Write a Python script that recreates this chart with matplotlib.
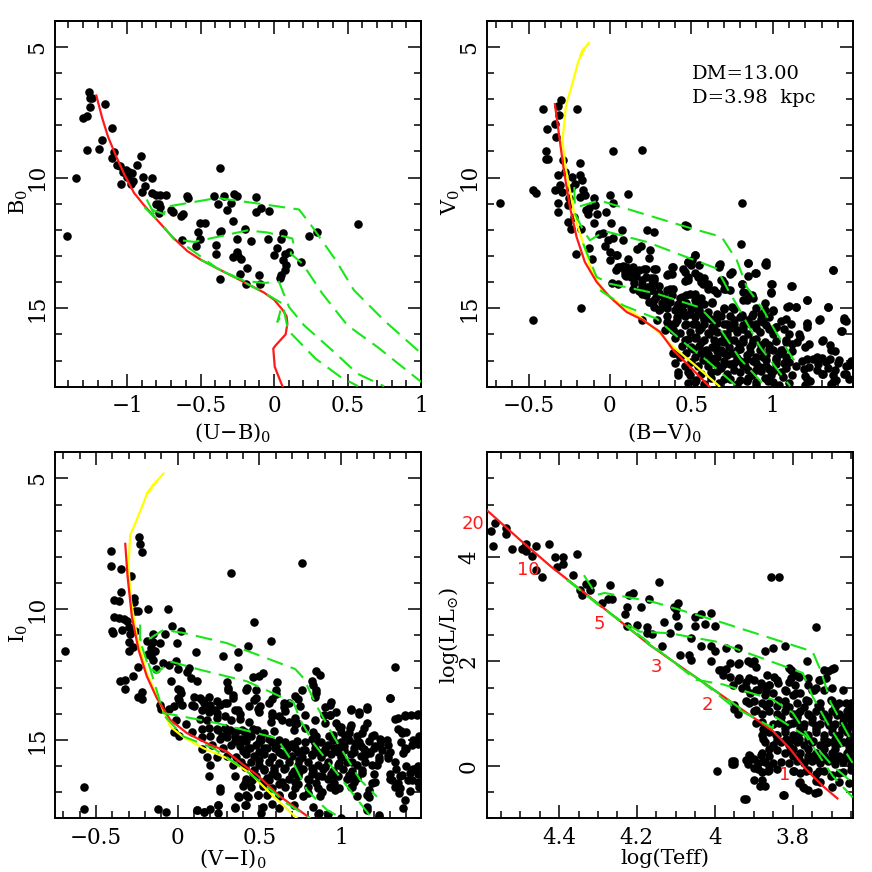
"""Four-panel colour-magnitude / HR diagram with MS and PMS isochrones."""
import matplotlib
matplotlib.use("Agg")
import matplotlib.pyplot as plt
from matplotlib.ticker import FixedLocator, MultipleLocator

plt.rcParams["font.family"] = ["DejaVu Serif"]
plt.rcParams["mathtext.fontset"] = "dejavuserif"

RED, GREEN, YELLOW = "#ff1a1a", "#19e619", "#ffff00"

# --- (U-B)0 vs B0 ---
ub_stars = [(-1.256,6.73),(-1.25,6.96),(-1.235,6.96),(-1.25,7.31),(-1.15,7.17),(-1.274,7.63),(-1.297,7.74),
    (-1.104,8.11),(-1.168,8.58),(-1.193,8.9),(-1.27,8.93),(-1.088,9.04),(-1.1,9.26),(-0.907,9.16),(-1.066,9.52),
    (-1.048,9.57),(-0.93,9.53),(-0.37,9.62),(-1.01,9.72),(-0.986,9.79),(-0.968,9.81),(-1.03,9.77),(-1.349,10.0),
    (-0.889,9.97),(-0.832,10.0),(-1.0,9.97),(-0.957,10.14),(-0.975,10.24),(-1.04,10.24),(-0.88,10.31),(-0.9,10.54),
    (-0.832,10.6),(-0.805,10.65),(-0.776,10.68),(-0.737,10.66),(-0.594,10.7),(-0.585,10.8),(-0.41,10.69),
    (-0.342,10.69),(-0.274,10.64),(-0.254,10.71),(-0.125,10.74),(-0.38,11.0),(-0.29,10.98),(-0.805,11.03),
    (-0.782,11.03),(-0.776,11.12),(-0.086,11.15),(-0.122,11.31),(-0.032,11.28),(-0.317,11.26),(-0.703,11.26),
    (-0.685,11.3),(-0.782,11.36),(-0.62,11.39),(-0.63,11.47),(-0.28,11.65),(-0.503,11.72),(-0.47,11.75),
    (0.574,11.77),(-0.2,11.98),(-0.358,12.05),(-0.37,12.1),(-0.517,12.1),(0.06,12.13),(0.29,12.1),(0.238,12.25),
    (-0.503,12.35),(-0.628,12.37),(-0.254,12.35),(-0.159,12.42),(-0.04,12.36),(0.045,12.35),(-0.392,12.58),
    (-0.53,12.63),(0.018,12.7),(-0.395,12.91),(-0.25,12.84),(0.1,12.84),(-0.002,12.97),(0.075,12.93),(0.06,13.14),
    (-0.28,13.05),(-0.245,13.0),(-0.222,13.11),(0.186,13.24),(0.082,13.33),(0.075,13.52),(-0.186,13.47),
    (-0.23,13.7),(-0.104,13.72),(0.045,13.74),(0.04,13.83),(-0.37,13.88),(-0.193,14.06),(-0.093,14.09),(-1.406,12.22)]
ub_red = [(-1.209,6.86),(-1.168,7.74),(-1.129,8.44),(-1.077,9.15),(-1.016,9.91),(-0.952,10.59),(-0.884,11.06),
    (-0.794,11.63),(-0.692,12.27),(-0.59,12.81),(-0.499,13.14),(-0.385,13.48),(-0.227,13.93),(-0.068,14.4),
    (0.0,14.67),(0.057,15.05),(0.086,15.31),(0.091,15.59),(0.079,16.0),(0.011,16.42),(-0.005,16.54),
    (0.005,17.24),(0.057,17.98)]
ub_pms = [
    [(-0.866,10.84),(-0.794,11.63),(-0.884,11.12),(-0.748,11.4),(-0.737,11.12),(-0.385,10.78),(-0.272,10.87),
     (-0.113,10.99),(0.17,11.22),(0.261,11.89),(0.42,13.16),(0.544,14.31),(0.748,15.46),(1.002,16.73)],
    [(-0.748,11.89),(-0.68,12.37),(-0.544,12.46),(-0.385,12.27),(-0.181,12.02),(-0.045,12.1),(0.125,12.33),
     (0.132,12.53),(0.113,12.91),(0.193,13.29),(0.329,14.44),(0.499,15.65),(0.703,16.48),(1.002,17.82)],
    [(-0.59,12.65),(-0.385,13.48),(-0.204,13.95),(-0.068,14.03),(0.034,13.99),(0.102,14.95),(0.204,15.65),
     (0.408,16.67),(0.567,17.5),(0.748,17.98)],
    [(-0.5,13.14),(-0.227,13.93),(-0.057,14.44),(0.057,14.82),(0.023,15.52),(0.068,15.08),(0.095,15.84),(0.283,16.93),(0.453,17.63),(0.571,17.98)],
]

# --- (B-V)0 vs V0 ---
bv_stars = [(-0.3,7.02),(-0.32,7.27),(-0.41,7.37),(-0.2,7.37),(-0.31,7.61),(-0.34,7.96),(-0.385,8.13),(-0.33,8.44),
    (-0.39,8.97),(0.016,9.0),(0.197,8.95),(-0.39,9.3),(-0.38,9.29),(-0.287,9.31),(-0.184,9.46),(-0.318,9.92),
    (-0.277,9.78),(-0.23,9.97),(-0.184,9.92),(-0.174,10.1),(-0.215,10.23),(-0.307,10.29),(-0.338,10.46),
    (-0.297,10.55),(-0.471,10.48),(-0.451,10.6),(-0.168,10.46),(-0.184,10.74),(-0.154,10.68),(-0.096,10.8),
    (0.0,10.65),(0.113,10.62),(-0.676,10.96),(-0.32,10.97),(0.016,10.96),(0.813,10.97),(-0.32,11.33),(-0.15,11.25),
    (-0.133,11.4),(-0.082,11.38),(-0.027,11.32),(-0.256,11.7),(-0.096,11.73),(0.004,11.73),(-0.24,11.95),
    (0.072,12.02),(0.225,12.02),(0.27,12.09),(0.461,11.82),(0.471,11.86),(-0.066,12.17),(-0.04,12.12),
    (0.078,12.37),(-0.01,12.37),(0.016,12.33),(-0.03,12.63),(0.805,12.56),(-0.127,12.69),(-0.209,12.91),
    (0.0,12.84),(0.164,12.72),(0.189,12.63),(0.246,12.78),(0.242,13.06),(-0.109,13.1),(0.0,13.14),(0.041,12.97),
    (0.113,13.11),(0.522,12.97),(0.482,13.23),(0.502,13.16),(0.85,13.25),(0.959,13.23),(0.959,13.35),(0.676,13.29),
    (0.672,13.42),(0.9,13.64),(1.373,13.55),(0.748,13.61),(0.379,13.44),(0.359,13.67),(0.85,13.76),(0.809,14.08),
    (0.994,14.08),(1.117,14.16),(0.988,14.38),(1.209,14.69),(-0.18,14.99),(1.1,14.92),(1.143,14.97),(1.338,14.97),
    (-0.471,15.46),(0.2,15.46),(1.44,15.36),(1.447,15.49),(1.287,15.43),(1.424,15.88),(1.209,15.55),(1.209,15.72),
    (0.05,13.43),(0.08,13.4),(0.11,13.45),(0.14,13.42),(0.04,13.55),(0.09,13.6),(0.13,13.62),(0.15,13.55),(0.18,13.55),
    (0.1,13.75),(0.13,13.8),(0.16,13.75),(0.22,13.48),(0.27,13.48),(0.2,13.9),(0.25,13.85),(0.27,13.9),(0.15,14.05),
    (0.01,14.05),(0.05,14.08),(0.3,14.15),(0.45,13.5),(0.48,13.8),(0.46,13.95),(0.52,13.65),(0.55,13.75),(0.58,13.85),
    (0.56,14.0),(0.6,14.1),(0.6,14.25),(0.66,14.4),(0.7,14.25),(0.74,14.3),(0.68,13.9),(0.7,14.05),(0.84,14.4),
    (0.84,14.7),(0.87,14.5),(0.18,14.35),(0.23,14.2),(0.26,14.3),(0.3,14.4),(0.35,14.3),(0.39,14.25),(0.22,14.5),
    (0.28,14.55),(0.33,14.55),(0.38,14.5),(0.43,14.6),(0.47,14.5),(0.52,14.45),(0.56,14.6),(0.25,14.75),(0.27,14.95),
    (0.32,14.8),(0.37,14.75),(0.42,14.85),(0.47,14.8),(0.52,14.7),(0.58,14.85),(0.63,14.8),(0.3,15.05),(0.35,15.0),
    (0.4,15.05),(0.45,15.1),(0.5,15.0),(0.55,15.05),(0.6,15.15),(0.7,15.0),(0.75,14.95),(0.9,15.0),(0.95,15.05),
    (1.0,15.1),(0.29,15.45),(0.35,15.3),(0.41,15.35),(0.46,15.3),(0.52,15.35),(0.57,15.3),(0.62,15.4),(0.68,15.3),
    (0.74,15.3),(0.8,15.35),(0.87,15.3),(0.93,15.4),(0.98,15.35),(1.05,15.5),(0.36,15.6),(0.4,15.55),(0.46,15.65),
    (0.51,15.6),(0.58,15.6),(0.63,15.7),(0.7,15.6),(0.76,15.6),(0.82,15.65),(0.9,15.6),(0.96,15.65),(1.02,15.7),
    (1.07,15.8),(0.34,15.85),(0.39,15.85),(0.43,15.95),(0.49,15.9),(0.55,15.85),(0.6,15.95),(0.66,15.9),(0.72,16.0),
    (0.78,15.9),(0.85,16.0),(0.92,15.9),(1.0,16.0),(1.1,16.0),(1.17,16.1),(0.4,16.15),(0.46,16.2),(0.52,16.15),
    (0.58,16.2),(0.64,16.2),(0.7,16.3),(0.76,16.2),(0.82,16.3),(0.88,16.2),(0.95,16.3),(1.02,16.25),(1.08,16.3),
    (1.15,16.3),(1.2,16.5),(1.3,16.25),(0.44,16.45),(0.5,16.5),(0.55,16.45),(0.63,16.5),(0.68,16.6),(0.73,16.5),
    (0.8,16.55),(0.86,16.5),(0.92,16.6),(0.98,16.55),(1.05,16.6),(1.12,16.65),(0.39,16.7),(0.43,16.85),(0.47,16.7),
    (0.52,16.85),(0.6,16.75),(0.66,16.85),(0.72,16.8),(0.78,16.9),(0.84,16.8),(0.9,16.85),(0.96,16.8),(1.02,16.9),
    (1.08,16.85),(1.18,17.0),(1.25,16.95),(1.3,16.9),(1.35,16.95),(1.38,16.65),(1.35,16.4),(0.4,17.1),(0.46,17.2),
    (0.5,17.05),(0.64,17.05),(0.7,17.15),(0.76,17.1),(0.83,17.2),(0.9,17.1),(0.96,17.2),(1.02,17.15),(1.07,17.1),
    (1.14,17.2),(1.22,17.25),(1.28,17.15),(1.34,17.3),(1.4,17.1),(1.45,17.2),(1.48,17.0),(0.42,17.55),(0.48,17.45),
    (0.56,17.5),(0.66,17.4),(0.72,17.5),(0.8,17.45),(0.87,17.55),(0.93,17.4),(0.99,17.55),(1.05,17.45),(1.12,17.55),
    (1.2,17.6),(1.3,17.5),(1.37,17.55),(1.44,17.5),(1.47,17.7),(0.48,17.85),(0.53,17.75),(0.58,17.9),(0.67,17.85),
    (0.78,17.9),(0.84,17.8),(0.9,17.95),(0.97,17.8),(1.04,17.95),(1.1,17.85),(1.2,17.95),(1.23,17.8),(1.36,17.9),
    (1.39,17.75),(-0.09,11.05),(-0.13,11.15),(-0.24,10.4),(-0.25,10.8),(-0.26,11.05),(-0.22,11.5),(-0.18,11.95)]
bv_dense = [(0.04,12.97),(0.06,13.42),(0.1,13.42),(0.13,13.61),(0.09,13.74),(0.15,13.8),(0.21,13.48),(0.28,13.48),
    (0.22,13.8),(0.27,13.86),(0.26,14.06),(0.2,14.12),(0.35,13.74),(0.39,13.42),(0.38,13.67),(0.48,13.23),(0.52,12.97),
    (0.5,13.35),(0.55,13.35),(0.46,13.61),(0.48,13.93),(0.54,13.8),(0.57,14.06),(0.6,14.06),(0.67,13.35),(0.74,13.67),
    (0.69,13.93),(0.71,14.25),(0.64,14.31),(0.81,14.09),(0.85,13.26),(0.89,13.65),(0.95,13.29),(0.99,14.06),(0.99,14.4),
    (1.11,14.14),(1.21,14.69),(1.34,14.95),(1.37,13.55),(0.82,14.37),(0.82,14.69),(0.88,14.59),(0.95,14.8),(1.09,14.95),
    (1.14,14.97),(0.14,14.25),(0.2,14.44),(0.25,14.31),(0.3,14.44),(0.37,14.25),(0.24,14.76),(0.31,15.01),(0.27,14.69),
    (0.35,14.69),(0.44,14.57),(0.49,14.44),(0.41,14.95),(0.45,14.82),(0.51,14.95),(0.55,14.82),(0.63,14.76),(0.7,15.01),
    (0.76,15.01),(0.59,15.2),(0.49,15.2),(0.41,15.46),(0.35,15.52),(0.39,15.84),(0.47,15.59),(0.53,15.59),(0.65,15.4),
    (0.72,15.59),(0.81,15.27),(0.88,15.2),(0.93,15.2),(1.0,15.08),(1.08,15.4),(1.11,15.59),(1.21,15.59),(1.29,15.42),
    (1.44,15.46),(1.42,15.88),(1.31,16.22),(1.22,16.35),(1.16,15.97),(1.08,16.22),(1.02,15.71),(0.94,15.52),(0.86,15.59),
    (0.78,15.84),(0.7,15.97),(0.61,15.97),(0.53,16.1),(0.48,16.16),(0.65,16.42),(0.74,16.22),(0.82,16.16),(0.9,16.16),
    (0.98,16.42),(1.06,16.6),(1.12,16.35),(1.36,16.6),(1.27,16.86),(1.21,16.93),(1.33,17.05),(1.41,16.99),(1.47,17.18),
    (1.45,17.5),(1.38,17.37),(1.27,17.37),(1.19,17.31),(1.1,17.05),(1.02,16.99),(0.94,16.86),(0.86,16.67),(0.78,16.6),
    (0.7,16.73),(0.59,16.6),(0.51,16.54),(0.57,16.99),(0.65,17.12),(0.74,17.12),(0.82,17.18),(0.9,17.37),(0.98,17.31),
    (1.06,17.63),(1.21,17.69),(1.31,17.5),(1.37,17.82),(0.49,17.56),(0.42,17.44),(0.4,16.73),(0.52,17.82),(0.7,17.69),
    (0.8,17.75),(0.9,17.82),(1.0,17.82),(0.62,17.44),(0.56,16.3),(0.68,16.25),(0.79,16.35),(0.87,16.35),(0.93,16.42),
    (1.0,16.6),(1.04,16.75),(0.96,16.98),(0.88,17.0),(0.8,17.02),(0.7,17.0),(0.62,16.9),(0.56,16.7),(0.66,16.65),
    (0.75,16.7),(0.84,16.95),(0.92,17.25),(1.0,17.4),(1.08,17.3),(0.76,17.35),(0.68,17.28),(0.6,17.2),(0.54,17.2),
    (0.85,17.35),(0.95,17.65),(0.62,17.65),(0.74,17.72),(0.85,17.65),(0.58,15.45),(0.66,15.55),(0.76,15.45),(0.84,15.45),
    (0.56,15.75),(0.64,15.85),(0.74,15.75),(0.82,15.8),(0.9,15.75),(0.98,15.8),(0.44,15.2),(0.54,15.15),(0.66,15.2)]
bv_yellow = [(-0.129,4.85),(-0.174,5.19),(-0.158,5.06),(-0.184,5.38),(-0.164,5.13),(-0.195,5.57),(-0.236,6.53),
    (-0.27,7.23),(-0.291,8.57),(-0.277,9.46),(-0.246,10.48),(-0.215,11.51),(-0.164,12.53),(-0.113,13.55),
    (-0.041,14.38),(0.072,14.89),(0.184,15.34),(0.287,15.85),(0.389,16.48),(0.512,17.12),(0.672,17.98)]
bv_red = [(-0.338,7.19),(-0.311,8.44),(-0.283,9.72),(-0.246,11.12),(-0.205,12.27),(-0.154,13.23),(-0.082,13.99),
    (0.0,14.57),(0.102,15.14),(0.205,15.46),(0.307,15.9),(0.389,16.6),(0.492,17.24),(0.611,18.0)]
bv_pms = [
    [(-0.219,10.36),(-0.215,11.12),(-0.174,11.08),(-0.066,10.87),(0.164,11.31),(0.471,11.89),(0.686,12.27),
     (0.779,13.16),(0.84,14.18),(0.943,15.08),(1.025,15.97),(1.158,17.25)],
    [(-0.215,11.37),(-0.164,12.02),(-0.123,12.4),(-0.031,12.05),(0.225,12.46),(0.656,13.48),(0.727,14.31),
     (0.799,15.08),(0.922,16.48),(1.107,17.98)],
    [(-0.164,12.53),(-0.082,13.8),(0.0,14.06),(0.287,14.44),(0.553,14.97),(0.676,15.78),(0.799,16.93),(0.953,17.98)],
    [(-0.061,14.31),(0.082,14.89),(0.287,15.4),(0.451,16.29),(0.594,16.99),(0.779,17.98)],
]

# --- (V-I)0 vs I0 ---
vi_stars = [(-0.233,7.25),(-0.229,7.5),(-0.218,7.82),(-0.408,7.78),(-0.408,8.36),(-0.345,8.46),(-0.284,8.72),
    (0.761,8.23),(0.327,8.63),(-0.347,9.33),(-0.269,9.57),(-0.388,9.66),(-0.361,9.67),(-0.269,9.74),(-0.259,10.06),
    (-0.243,10.08),(-0.18,9.99),(-0.06,9.98),(-0.39,10.3),(-0.36,10.33),(-0.33,10.38),(-0.31,10.45),(0.47,10.5),
    (-0.035,10.63),(0.02,10.82),(-0.4,10.85),(-0.395,10.93),(-0.34,10.8),(-0.3,10.7),(-0.29,10.95),(-0.26,10.85),
    (-0.15,10.95),(-0.075,10.95),(-0.3,11.25),(-0.19,11.2),(-0.15,11.25),(-0.11,11.3),(-0.005,11.3),(0.57,11.2),
    (0.43,11.4),(-0.27,11.45),(-0.3,11.6),(-0.16,11.5),(-0.14,11.6),(-0.18,11.7),(-0.16,11.8),(0.11,11.65),
    (0.28,11.8),(0.37,11.65),(-0.15,11.95),(-0.09,12.05),(-0.05,12.15),(-0.01,12.0),(0.07,12.25),(0.37,12.2),
    (1.33,12.2),(-0.13,12.3),(-0.24,12.2),(0.0,12.3),(0.06,12.4),(0.85,12.35),(0.87,12.5),(0.52,12.45),(0.5,12.55),
    (0.46,12.6),(-0.35,12.75),(-0.32,12.72),(-0.27,12.55),(-0.04,12.75),(0.08,12.65),(0.12,12.75),(0.3,12.8),
    (0.61,12.8),(0.82,12.75),(0.83,12.9),(-0.32,13.05),(-0.22,13.15),(0.0,13.05),(0.02,13.2),(0.31,13.0),(0.31,13.1),
    (0.42,13.1),(0.48,13.1),(0.76,13.1),(0.6,13.1),(0.6,13.25),(0.85,13.1),(0.84,13.35),(-0.24,13.35),(-0.22,13.45),
    (0.0,13.4),(0.1,13.35),(0.14,13.4),(0.19,13.35),(0.24,13.5),(0.34,13.4),(0.48,13.4),(0.58,13.45),(0.68,13.6),
    (0.74,13.45),(0.94,13.55),(1.3,13.4),(-0.11,13.65),(-0.1,13.8),(-0.05,13.8),(-0.02,13.7),(0.03,13.65),(0.1,13.7),
    (0.16,13.6),(0.2,13.65),(0.26,13.65),(0.3,13.6),(0.44,13.7),(0.49,13.8),(0.65,13.75),(0.66,13.9),(0.75,13.7),
    (0.9,13.75),(0.93,13.65),(0.15,13.85),(0.19,13.95),(0.23,13.85),(0.37,13.85),(0.38,14.0),(0.5,13.95),(0.58,14.1),
    (0.62,14.1),(0.72,14.15),(0.78,14.05),(0.93,14.05),(0.97,13.95),(1.06,13.8),(1.16,13.75),(1.11,13.95),(1.35,14.15),
    (1.39,14.05),(1.43,14.05),(1.47,14.0),(-0.01,14.25),(0.05,14.4),(0.14,14.2),(0.18,14.25),(0.24,14.15),(0.29,14.1),
    (0.33,14.25),(0.38,14.2),(0.44,14.3),(0.57,14.3),(0.68,14.3),(0.72,14.4),(0.9,14.35),(0.97,14.35),(1.0,14.5),
    (1.06,14.45),(1.16,14.35),(1.14,14.55),(1.35,14.6),(1.37,14.65),(1.4,14.7),(1.44,15.0),(1.47,15.15),(-0.02,14.7),
    (0.01,14.85),(0.09,14.7),(0.15,14.6),(0.19,14.55),(0.24,14.6),(0.29,14.55),(0.36,14.65),(0.41,14.7),(0.46,14.6),
    (0.53,14.75),(0.59,14.65),(0.78,14.55),(0.83,14.7),(0.85,14.85),(0.95,14.8),(1.0,14.7),(1.05,14.75),(1.1,14.85),
    (1.2,14.8),(1.24,14.95),(1.37,15.1),(1.4,15.35),(0.15,14.9),(0.2,14.85),(0.26,14.95),(0.3,14.9),(0.35,14.85),
    (0.39,14.95),(0.45,14.85),(0.51,15.0),(0.56,14.95),(0.62,15.0),(0.66,15.1),(0.73,15.05),(0.78,15.1),(0.88,15.1),
    (0.95,15.0),(1.0,15.1),(1.05,15.0),(1.11,15.1),(1.17,15.05),(1.29,15.2),(1.38,15.5),(0.15,15.35),(0.21,15.2),
    (0.28,15.3),(0.33,15.2),(0.38,15.25),(0.43,15.3),(0.48,15.2),(0.55,15.3),(0.6,15.25),(0.67,15.35),(0.72,15.3),
    (0.78,15.4),(0.84,15.3),(0.9,15.35),(0.96,15.3),(1.02,15.4),(1.08,15.3),(1.14,15.35),(1.2,15.3),(1.25,15.4),
    (1.3,15.45),(0.18,15.65),(0.2,15.95),(0.24,15.65),(0.3,15.6),(0.36,15.65),(0.42,15.55),(0.47,15.6),(0.53,15.55),
    (0.58,15.65),(0.64,15.55),(0.7,15.6),(0.76,15.65),(0.82,15.55),(0.88,15.65),(0.94,15.55),(1.0,15.65),(1.06,15.55),
    (1.12,15.6),(1.18,15.5),(1.23,15.65),(1.29,15.7),(0.19,16.4),(0.34,15.95),(0.39,15.85),(0.45,15.85),(0.5,15.95),
    (0.56,15.85),(0.62,15.9),(0.68,15.85),(0.74,15.95),(0.8,15.85),(0.86,15.95),(0.92,15.85),(0.98,15.95),(1.04,15.85),
    (1.1,15.95),(1.15,15.85),(1.22,15.95),(1.34,16.1),(1.4,16.0),(1.44,16.1),(1.47,16.0),(0.41,16.05),(0.47,16.15),
    (0.53,16.1),(0.59,16.2),(0.65,16.1),(0.71,16.2),(0.77,16.1),(0.83,16.2),(0.89,16.1),(0.95,16.2),(1.01,16.1),
    (1.07,16.2),(1.13,16.15),(1.2,16.3),(1.3,16.3),(1.36,16.4),(1.42,16.25),(1.47,16.3),(0.35,16.4),(0.42,16.5),
    (0.48,16.4),(0.55,16.45),(0.61,16.4),(0.68,16.5),(0.74,16.4),(0.8,16.5),(0.86,16.4),(0.92,16.5),(0.98,16.4),
    (1.04,16.5),(1.1,16.45),(1.3,16.5),(1.35,16.65),(1.41,16.55),(1.47,16.6),(0.26,16.85),(0.4,16.75),(0.45,16.8),
    (0.52,16.75),(0.58,16.85),(0.66,16.8),(0.72,16.85),(0.8,16.8),(0.86,16.85),(0.93,16.8),(0.99,16.85),(1.06,16.8),
    (1.17,16.9),(1.36,16.85),(1.42,16.95),(0.37,17.15),(0.42,17.1),(0.49,17.1),(0.62,17.15),(0.7,17.1),(0.77,17.15),
    (0.87,17.15),(1.1,17.15),(1.17,17.2),(1.39,17.3),(0.25,17.5),(0.35,17.55),(0.42,17.5),(0.52,17.55),(0.58,17.45),
    (0.62,17.6),(0.71,17.5),(0.83,17.55),(1.16,17.55),(-0.12,17.65),(-0.07,17.75),(0.12,17.7),(0.16,17.75),(0.2,17.65),
    (0.25,17.8),(0.51,17.8),(0.86,17.85),(0.92,17.85),(-0.57,16.8),(-0.57,17.65),(-0.69,11.6),(1.23,17.95),(1.0,18.0)]
vi_dense = [(0.017,13.08),(0.006,13.47),(0.088,13.66),(0.15,13.47),(0.19,13.79),(0.24,13.98),(0.29,13.59),(0.34,13.27),
    (0.35,13.85),(0.425,13.02),(0.466,13.47),(0.506,13.72),(0.557,13.59),(0.578,13.98),(0.65,13.59),(0.64,14.23),
    (0.72,13.34),(0.71,14.62),(0.73,14.36),(0.85,13.21),(0.843,14.23),(0.894,14.04),(0.935,14.04),(1.06,13.87),
    (1.108,14.02),(1.16,13.82),(1.3,13.4),(1.466,14.04),(1.394,14.08),(1.333,14.21),(1.374,14.74),(1.476,14.87),
    (1.394,15.32),(1.435,15.19),(0.25,14.62),(0.32,14.62),(0.394,14.62),(0.486,14.62),(0.27,14.87),(0.35,15.06),
    (0.425,14.87),(0.506,14.93),(0.64,15.13),(0.7,15.25),(0.77,15.38),(0.843,15.13),(0.925,14.87),(0.986,14.49),
    (1.057,14.55),(1.129,14.74),(1.19,14.87),(1.21,15.25),(1.088,15.13),(1.027,14.87),(0.986,15.25),(0.904,15.45),
    (0.823,15.57),(0.741,15.77),(0.66,15.57),(0.578,15.64),(0.496,15.77),(0.445,15.32),(0.527,15.32),(0.598,15.32),
    (0.527,16.15),(0.588,16.08),(0.66,16.08),(0.741,16.21),(0.823,16.08),(0.904,16.02),(0.986,15.89),(1.068,15.83),
    (1.15,15.57),(1.23,15.77),(1.29,15.57),(1.333,15.83),(1.19,15.96),(1.129,16.28),(1.047,16.34),(0.966,16.4),
    (0.884,16.4),(0.802,16.53),(0.72,16.6),(0.64,16.6),(0.557,16.53),(0.455,16.53),(0.414,16.66),(0.374,17.17),
    (0.431,17.17),(0.492,17.11),(0.547,17.11),(0.619,17.11),(0.7,17.11),(0.8,17.04),(0.884,16.98),(0.966,16.91),
    (1.068,16.79),(1.19,16.66),(1.313,16.53),(1.374,16.34),(1.455,16.15),(1.435,16.53),(1.476,16.79),(1.353,17.04),
    (1.333,16.79),(1.16,17.11),(1.21,16.6),(1.378,17.59),(1.16,17.68),(1.23,17.87),(0.864,17.81),(0.414,17.49),
    (0.35,17.59),(0.247,17.49),(0.257,16.95),(0.12,17.68),(0.16,17.74),(0.3,14.75),(0.42,15.05),(0.5,15.1),(0.58,15.1),
    (0.7,15.15),(0.82,14.98),(0.92,15.2),(1.02,15.22),(1.12,15.22),(1.17,15.45),(1.08,15.45),(0.98,15.45),(0.86,15.45),
    (0.74,15.48),(0.62,15.45),(0.5,15.45),(0.4,15.42),(0.46,16.3),(0.58,16.3),(0.7,16.32),(0.82,16.32),(0.94,16.32),
    (1.06,16.35),(0.52,16.62),(0.62,16.68),(0.74,16.68),(0.85,16.65),(0.96,16.65),(1.08,16.62),(1.24,15.15),(1.28,15.0)]
vi_yellow = [(-0.086,4.81),(-0.137,5.17),(-0.127,5.11),(-0.188,5.59),(-0.147,5.23),(-0.188,5.61),(-0.249,6.57),
    (-0.29,7.18),(-0.3,8.36),(-0.286,9.64),(-0.249,11.04),(-0.188,12.45),(-0.106,13.6),(-0.045,14.49),(0.037,14.9),
    (0.159,15.32),(0.302,15.7),(0.445,16.28),(0.567,17.04),(0.731,18.0)]
vi_red = [(-0.32,7.5),(-0.306,8.74),(-0.28,10.27),(-0.239,11.55),(-0.188,12.57),(-0.127,13.4),(-0.045,14.23),
    (0.057,14.74),(0.18,15.13),(0.302,15.45),(0.404,15.96),(0.486,16.34),(0.629,17.17),(0.812,18.0)]
vi_pms = [
    [(-0.229,10.59),(-0.229,11.17),(-0.198,11.23),(-0.086,10.79),(0.037,10.91),(0.302,11.3),(0.72,12.29),
     (0.771,12.64),(0.853,13.72),(0.955,14.87),(1.118,16.53),(1.22,17.17)],
    [(-0.218,11.42),(-0.178,12.19),(-0.127,12.45),(-0.045,12.0),(0.139,12.32),(0.424,12.76),(0.71,13.57),
     (0.751,14.23),(0.833,15.13),(0.976,16.28),(1.19,18.0)],
    [(-0.178,12.06),(-0.086,13.98),(-0.024,14.04),(0.241,14.36),(0.608,14.94),(0.71,15.9),(0.792,16.92),
     (0.914,17.68),(1.006,18.0)],
    [(-0.076,14.11),(0.037,14.87),(0.22,15.32),(0.384,16.02),(0.547,16.79),(0.669,17.43),(0.812,18.0)],
]

# --- log(Teff) vs log(L/Lsun) ---
hr_stars = [(4.575,4.5),(4.565,4.65),(4.57,4.21),(4.535,4.55),(4.535,4.43),(4.52,4.15),(4.495,4.15),(4.49,4.17),
    (4.485,4.25),(4.485,4.12),(4.47,4.02),(4.46,4.2),(4.425,4.25),(4.41,4.0),(4.405,3.81),(4.39,4.0),(4.39,3.87),
    (4.355,4.05),(4.46,3.75),(4.445,3.62),(4.365,3.66),(4.33,3.49),(4.315,3.5),(4.345,3.37),(4.34,3.28),(4.32,3.37),
    (4.27,3.47),(4.275,3.2),(4.265,3.2),(4.29,3.12),(4.225,3.05),(4.23,2.9),(4.225,2.67),(4.22,3.28),(4.21,3.31),
    (4.19,3.04),(4.2,2.7),(4.175,2.66),(4.175,2.55),(4.16,2.53),(4.17,3.2),(4.143,3.52),(4.13,2.75),(4.135,2.3),
    (4.115,2.55),(4.105,3.05),(4.1,3.0),(4.1,2.86),(4.095,3.12),(4.095,2.67),(4.09,2.12),(4.065,2.13),(4.06,2.03),
    (4.06,2.45),(4.05,2.85),(4.05,2.67),(4.035,2.9),(4.025,2.72),(4.035,2.3),(4.01,2.93),(4.0,2.67),(4.01,2.3),
    (4.0,2.2),(4.01,2.0),(3.97,2.25),(3.94,2.25),(3.87,2.2),(3.85,2.25),(3.82,2.3),(3.855,3.62),(3.835,3.62),
    (3.74,2.65),(3.763,2.0),(3.99,1.84),(3.98,1.75),(3.97,1.85),(3.96,1.7),(3.94,1.95),(3.915,2.0),(3.9,2.0),
    (3.895,1.9),(3.865,1.75),(3.81,1.88),(3.8,1.8),(3.785,1.72),(3.7,1.85),(3.72,1.83),(3.73,1.65),
    (3.94,1.65),(3.92,1.6),(3.9,1.65),(3.88,1.55),(3.86,1.55),(3.84,1.65),(3.81,1.6),(3.795,1.55),(3.76,1.55),
    (3.74,1.5),(3.93,1.5),(3.91,1.4),(3.89,1.45),(3.87,1.35),(3.85,1.4),(3.82,1.45),(3.8,1.35),(3.78,1.4),(3.75,1.45),
    (3.72,1.45),(3.7,1.5),(3.67,1.45),(3.95,1.1),(3.94,1.0),(3.92,1.25),(3.9,1.25),(3.88,1.2),(3.86,1.2),(3.84,1.15),
    (3.82,1.25),(3.79,1.2),(3.76,1.25),(3.73,1.2),(3.7,1.25),(3.68,1.2),(3.65,1.2),(3.9,1.05),(3.88,1.0),(3.86,1.05),
    (3.84,1.0),(3.82,1.05),(3.8,1.0),(3.78,1.05),(3.76,1.0),(3.74,1.05),(3.72,1.0),(3.7,1.05),(3.68,1.0),(3.66,1.05),
    (3.65,0.95),(3.88,0.85),(3.85,0.8),(3.83,0.85),(3.81,0.8),(3.79,0.85),(3.77,0.8),(3.75,0.85),(3.73,0.8),(3.71,0.85),
    (3.69,0.8),(3.67,0.85),(3.65,0.8),(3.88,0.6),(3.86,0.65),(3.84,0.6),(3.82,0.65),(3.8,0.6),(3.78,0.65),(3.76,0.6),
    (3.74,0.65),(3.72,0.6),(3.7,0.65),(3.68,0.6),(3.66,0.65),(3.65,0.55),(3.87,0.45),(3.85,0.4),(3.83,0.45),(3.81,0.4),
    (3.79,0.45),(3.77,0.4),(3.75,0.45),(3.73,0.4),(3.71,0.45),(3.69,0.4),(3.67,0.45),(3.65,0.4),(3.88,0.25),(3.86,0.2),
    (3.84,0.3),(3.82,0.25),(3.8,0.2),(3.78,0.25),(3.76,0.2),(3.74,0.25),(3.72,0.2),(3.7,0.25),(3.68,0.2),(3.66,0.25),
    (3.65,0.15),(3.91,0.2),(3.9,0.13),(3.95,0.1),(3.95,0.03),(3.89,0.05),(3.87,0.08),(3.85,0.05),(3.83,0.08),
    (3.81,0.05),(3.79,0.1),(3.77,0.05),(3.75,0.1),(3.73,0.05),(3.71,0.1),(3.69,0.03),(3.67,0.08),(3.65,0.02),
    (3.995,-0.1),(3.89,-0.05),(3.88,-0.12),(3.86,-0.08),(3.84,-0.05),(3.8,-0.1),(3.78,-0.13),(3.76,-0.08),
    (3.74,-0.15),(3.72,-0.1),(3.7,-0.17),(3.67,-0.12),(3.88,-0.27),(3.87,-0.38),(3.78,-0.3),(3.77,-0.42),(3.76,-0.45),
    (3.73,-0.3),(3.735,-0.5),(3.7,-0.4),(3.68,-0.3),(3.825,-0.55),(3.92,-0.64)]
hr_dense = [(3.984,1.84),(3.962,1.97),(3.937,1.97),(3.907,1.97),(3.804,1.84),(3.783,1.71),(3.804,1.68),(3.847,1.71),
    (3.838,1.59),(3.86,1.55),(3.881,1.59),(3.911,1.68),(3.937,1.68),(3.954,1.55),(3.92,1.49),(3.894,1.46),(3.868,1.43),
    (3.817,1.43),(3.791,1.39),(3.761,1.68),(3.732,1.65),(3.715,1.68),(3.693,1.87),(3.71,1.81),(3.744,1.46),(3.766,1.27),
    (3.736,1.17),(3.702,1.27),(3.663,1.2),(3.838,1.27),(3.911,1.2),(3.894,1.08),(3.868,1.14),(3.817,1.14),(3.787,1.01),
    (3.757,0.98),(3.723,0.95),(3.685,0.98),(3.655,0.92),(3.95,1.17),(3.894,0.82),(3.877,0.7),(3.834,0.82),(3.8,0.82),
    (3.774,0.73),(3.74,0.76),(3.706,0.79),(3.672,0.7),(3.65,0.76),(3.877,0.51),(3.843,0.6),(3.817,0.51),(3.783,0.51),
    (3.749,0.47),(3.715,0.44),(3.68,0.44),(3.655,0.38),(3.86,0.32),(3.881,0.22),(3.808,0.28),(3.783,0.13),(3.749,0.19),
    (3.715,0.13),(3.685,0.13),(3.659,0.16),(3.911,0.22),(3.92,0.12),(3.956,0.09),(3.956,0.03),(3.915,0.03),(3.898,-0.03),
    (3.877,0.09),(3.86,0.0),(3.864,-0.1),(3.898,-0.26),(3.884,-0.38),(3.796,-0.1),(3.766,-0.1),(3.732,-0.1),(3.783,-0.32),
    (3.774,-0.41),(3.74,-0.29),(3.742,-0.51),(3.823,-0.55),(3.924,-0.64),(3.702,-0.19),(3.68,-0.13),(3.65,-0.07),(3.655,-0.32),
    (3.81,1.12),(3.77,1.12),(3.73,1.1),(3.69,1.12),(3.655,1.1),(3.83,0.93),(3.79,0.93),(3.75,0.92),(3.71,0.93),(3.67,0.93),
    (3.82,0.72),(3.78,0.72),(3.74,0.7),(3.7,0.72),(3.66,0.72),(3.8,0.52),(3.76,0.52),(3.72,0.52),(3.69,0.52),(3.655,0.5),
    (3.84,0.5),(3.76,0.32),(3.72,0.32),(3.69,0.32),(3.655,0.3),(3.8,0.32),(3.74,0.13),(3.7,0.13),(3.67,0.15),(3.76,0.13)]
hr_red = [(4.585,4.89),(4.501,4.33),(4.42,3.81),(4.338,3.33),(4.253,2.83),(4.168,2.32),(4.082,1.87),(3.997,1.43),
    (3.911,0.98),(3.851,0.67),(3.809,0.35),(3.766,-0.06),(3.723,-0.38),(3.685,-0.62)]
hr_pms = [
    [(4.336,3.65),(4.304,3.27),(4.283,3.31),(4.159,3.14),(3.988,2.76),(3.749,2.19),(3.727,1.81),(3.702,1.21),(3.646,0.44)],
    [(4.377,3.56),(4.304,3.11),(4.244,2.79),(4.193,2.57),(4.116,2.54),(3.997,2.38),(3.774,1.78),(3.749,1.33),(3.706,0.76),(3.646,0.06)],
    [(4.2,2.54),(4.048,1.65),(3.979,1.56),(3.851,1.27),(3.8,1.02),(3.749,0.44),(3.697,0.0),(3.646,-0.32)],
    [(4.039,1.65),(3.954,1.14),(3.851,0.73),(3.847,0.95),(3.766,0.57),(3.697,-0.19),(3.646,-0.6)],
    [(4.38,3.56),(4.253,2.83),(4.168,2.32),(4.082,1.87),(3.997,1.43),(3.911,0.98)],
]
mass_labels = ["20", "10", "5", "3", "2", "1"]
mass_x = [4.62, 4.479, 4.297, 4.15, 4.02, 3.82]
mass_y = [4.62, 3.75, 2.72, 1.89, 1.17, -0.18]


def xy(pairs):
    return [p[0] for p in pairs], [p[1] for p in pairs]


def draw_panel(ax, stars, red, pms, yellow=None):
    ax.scatter(*xy(stars), s=38, color="black", linewidths=0, zorder=2)
    if yellow is not None:
        ax.plot(*xy(yellow), color=YELLOW, lw=1.6, zorder=3)
    ax.plot(*xy(red), color=RED, lw=1.6, zorder=4)
    for track in pms:
        ax.plot(*xy(track), color=GREEN, lw=1.5, dashes=(8, 4), zorder=5)


def style_axis(ax, xlim, ylim, xmaj, xmin, yticks, ymin, xlabel, ylabel, ylabel_pos, xlabel_pos):
    ax.set_xlim(*xlim)
    ax.set_ylim(*ylim)
    ax.xaxis.set_major_locator(MultipleLocator(xmaj))
    ax.xaxis.set_minor_locator(MultipleLocator(xmin))
    ax.yaxis.set_major_locator(FixedLocator(yticks))
    ax.yaxis.set_minor_locator(MultipleLocator(ymin))
    ax.tick_params(which="major", direction="in", top=True, right=True, length=9.5, width=1.1,
                   labelsize=15.5, pad=5)
    ax.tick_params(which="minor", direction="in", top=True, right=True, length=5, width=1.1)
    ax.tick_params(axis="x", which="major", pad=6)
    for lab in ax.get_yticklabels():
        lab.set_rotation(90)
        lab.set_va("center")
    ax.xaxis.set_major_formatter(lambda v, _pos: f"{v:g}".replace("-", "\u2212"))
    for spine in ax.spines.values():
        spine.set_linewidth(1.4)
    ax.set_xlabel(xlabel, fontsize=15, va="center")
    ax.set_ylabel(ylabel, fontsize=15, va="center")
    ax.xaxis.set_label_coords(*xlabel_pos)
    ax.yaxis.set_label_coords(*ylabel_pos)


SIZE = 872.0
fig = plt.figure(figsize=(8.72, 8.72), dpi=100)
W = 366.0 / SIZE
ax_ub = fig.add_axes([55 / SIZE, 1 - 386.7 / SIZE, W, W])
ax_bv = fig.add_axes([487 / SIZE, 1 - 386.7 / SIZE, W, W])
ax_vi = fig.add_axes([55 / SIZE, 1 - 818.3 / SIZE, W, W])
ax_hr = fig.add_axes([487 / SIZE, 1 - 818.3 / SIZE, W, W])

draw_panel(ax_ub, ub_stars, ub_red, ub_pms)
draw_panel(ax_bv, bv_stars + bv_dense, bv_red, bv_pms, bv_yellow)
draw_panel(ax_vi, vi_stars + vi_dense, vi_red, vi_pms, vi_yellow)
draw_panel(ax_hr, hr_stars + hr_dense, hr_red, hr_pms)

style_axis(ax_ub, (-1.49, 1.0), (18, 4), 0.5, 0.1, [5, 10, 15], 1, "(U\u2212B)$_0$", "B$_0$", (-0.1, 0.505), (0.486, -0.127))
style_axis(ax_bv, (-0.755, 1.493), (18, 4), 0.5, 0.1, [5, 10, 15], 1, "(B\u2212V)$_0$", "V$_0$", (-0.1, 0.505), (0.486, -0.127))
style_axis(ax_vi, (-0.75, 1.49), (18, 4), 0.5, 0.1, [5, 10, 15], 1, "(V\u2212I)$_0$", "I$_0$", (-0.1, 0.505), (0.486, -0.11))
style_axis(ax_hr, (4.585, 3.645), (-1, 6), 0.2, 0.05, [0, 2, 4], 0.5, "log(Teff)", "log(L/L$_{\\odot}$)", (-0.105, 0.5), (0.486, -0.11))

ax_bv.text(0.502, 6.02, "DM=13.00", fontsize=14, va="center", ha="left")
ax_bv.text(0.502, 6.97, "D=3.98  kpc", fontsize=14, va="center", ha="left")
for label, mx, my in zip(mass_labels, mass_x, mass_y):
    ax_hr.text(mx, my, label, color=RED, fontsize=13, family="DejaVu Sans", ha="center", va="center",
               clip_on=False, zorder=6)

fig.savefig("out.png", dpi=100)
